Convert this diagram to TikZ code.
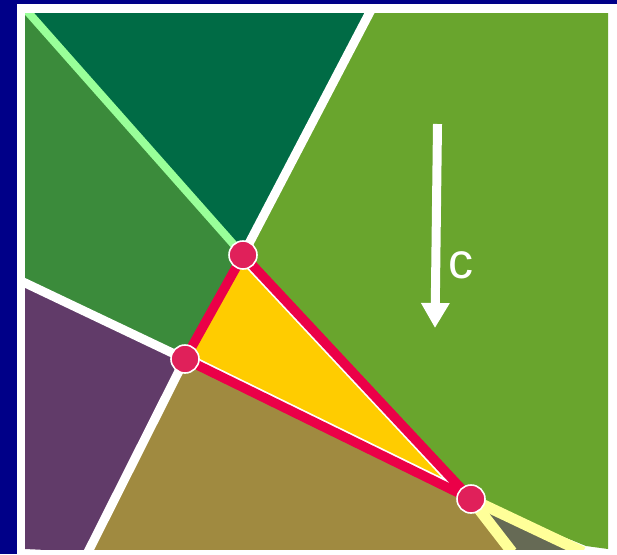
\documentclass[tikz,border=0pt]{standalone}
\usepackage{fontspec}
\newfontfamily\labfont{Liberation Sans}
\usetikzlibrary{arrows.meta}
\definecolor{bgblue}{HTML}{000088}
\definecolor{darkgr}{HTML}{006B45}
\definecolor{midgr}{HTML}{3B8B3B}
\definecolor{limegr}{HTML}{69A52D}
\definecolor{paleline}{HTML}{99FF99}
\definecolor{purp}{HTML}{613B69}
\definecolor{olive}{HTML}{A08A40}
\definecolor{slate}{HTML}{666A55}
\definecolor{paleyel}{HTML}{FFFF99}
\definecolor{triyel}{HTML}{FFCC00}
\definecolor{trired}{HTML}{EB0048}
\definecolor{dotred}{HTML}{E0205A}
\tikzset{
  % cells
  bnd/.style={draw=white,line width=9pt},
  gbnd/.style={draw=paleline,line width=8pt},
  ybnd/.style={draw=paleyel,line width=11pt},
  % triangle
  tri/.style={draw=trired,line width=9.5pt,line join=round},
  pt/.style={circle,fill=dotred,draw=white,line width=1.6pt,inner sep=0pt,
             minimum size=28pt},
  dir/.style={draw=white,line width=9pt,-{Triangle[length=25pt,width=27pt]}},
  lab/.style={text=white,font=\labfont\fontsize{50}{56}\selectfont,inner sep=0pt},
}
\begin{document}
\begin{tikzpicture}[x=1pt,y=-1pt]
  \useasboundingbox (0,0) rectangle (617,554);
  \fill[bgblue] (0,0) rectangle (617,554);
  \fill[white] (17,4) rectangle (617,554);
  \coordinate (a) at (243,255);
  \coordinate (b) at (185,359);
  \coordinate (c) at (471,499);
  \coordinate (top1) at (27,11);
  \coordinate (top2) at (371,10);
  \coordinate (left1) at (21,281);
  \coordinate (bot1) at (88,552);
  \coordinate (bot2) at (512,552);
  \coordinate (bot3) at (583,552);
  \begin{scope}
    \clip (25,13) rectangle (608,549);
    % regions
    \fill[limegr] (top2) -- (608,13) -- (608,549) -- (586,546) -- (c) -- (a) -- cycle;
    \fill[darkgr] (top1) -- (top2) -- (a) -- cycle;
    \fill[midgr] (25,13) -- (top1) -- (a) -- (b) -- (left1) -- cycle;
    \fill[purp] (left1) -- (b) -- (bot1) -- (25,549) -- cycle;
    \fill[olive] (b) -- (c) -- (bot2) -- (bot1) -- cycle;
    \fill[slate] (c) -- (bot2) -- (bot3) -- cycle;
    \fill[triyel] (a) -- (b) -- (c) -- cycle;
    % boundaries
    \draw[gbnd] (top1) -- (a);
    \draw[bnd] (a) -- (top2);
    \draw[bnd] (b) -- (left1);
    \draw[bnd] (b) -- (bot1);
    \draw[ybnd] (c) -- (bot2);
    \draw[ybnd] (c) -- (bot3);
  \end{scope}
  \begin{scope}
    \clip (a) -- (b) -- (c) -- cycle;
    \draw[draw=white,line width=13pt] (a) -- (c) -- (b);
  \end{scope}
  \draw[tri] (a) -- (b) -- (c) -- cycle;
  \node[pt] (pa) at (a) {};
  \node[pt] (pb) at (b) {};
  \node[pt] (pc) at (c) {};
  % direction
  \coordinate (c0) at (437.5,124);
  \coordinate (c1) at (435,328);
  \draw[dir] (c0) -- (c1);
  \node[lab] (cl) at (461,265) {c};
\end{tikzpicture}
\end{document}
